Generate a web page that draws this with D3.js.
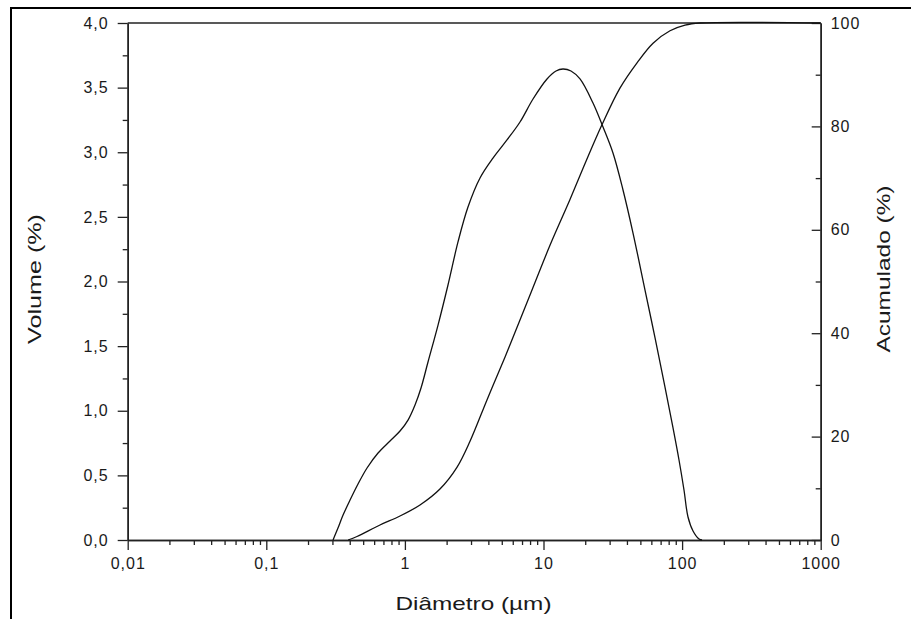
<!DOCTYPE html>
<html>
<head>
<meta charset="utf-8">
<script src="https://cdn.jsdelivr.net/npm/d3@7/dist/d3.min.js"></script>
<style>
    body { margin: 0; background: #fff; }
    svg { display: block; }
    .tick text { font-family: "Liberation Sans", Arial, sans-serif; font-size: 16px; letter-spacing: 1px; fill: #1a1a1a; }
    .title { font-family: "Liberation Sans", Arial, sans-serif; font-size: 19px; fill: #1a1a1a; }
</style>
</head>
<body>
<svg id="chart" width="911" height="619"></svg>
<script>

// volume curve (diameter in um, volume %)
var volDiam = [0.303, 0.329, 0.358, 0.402, 0.459, 0.533, 0.640, 0.781, 0.922, 1.053, 1.183, 1.307, 1.468,
    1.734, 2.046, 2.416, 2.852, 3.483, 4.320, 5.452, 6.768, 8.401, 10.60, 12.31, 13.82, 15.79, 18.34,
    22.76, 26.88, 31.72, 37.47, 44.24, 54.0, 63.8, 75.2, 86.0, 95.0, 103.2, 110.3, 119.9, 132.5, 139.2];
var volValue = [0, 0.093, 0.193, 0.309, 0.433, 0.557, 0.673, 0.766, 0.843, 0.928, 1.045, 1.176, 1.377,
    1.663, 1.973, 2.306, 2.576, 2.801, 2.955, 3.095, 3.234, 3.412, 3.567, 3.629, 3.644, 3.629, 3.567,
    3.381, 3.195, 2.994, 2.708, 2.375, 1.934, 1.563, 1.184, 0.867, 0.619, 0.387, 0.178, 0.070, 0.008, 0];

// cumulative curve (diameter in um, cumulative %)
var cumDiam = [0.389, 0.451, 0.661, 0.922, 1.285, 1.79, 2.38, 2.95, 3.91, 5.28, 7.73, 11.1, 15.5, 20.3,
    26.4, 35.6, 47.3, 61.7, 81.8, 105, 135, 1000];
var cumValue = [0, 0.68, 2.90, 4.64, 6.77, 9.86, 14.1, 19.1, 27.1, 35.4, 46.4, 56.9, 65.8, 73.3,
    80.3, 87.4, 92.3, 96.1, 98.5, 99.6, 100, 100];

var xMajor = [0.01, 0.1, 1, 10, 100, 1000];
var xLabels = ["0,01", "0,1", "1", "10", "100", "1000"];
var yLeftMajor = [0, 0.5, 1, 1.5, 2, 2.5, 3, 3.5, 4];
var yRightMajor = [0, 20, 40, 60, 80, 100];

function drawChart() {
    var svg = d3.select("#chart");
    var pLeft = 127.7, pRight = 820.7, pTop = 23, pBottom = 540;

    var x = d3.scaleLog().domain([0.01, 1000]).range([pLeft, pRight]);
    var yL = d3.scaleLinear().domain([0, 4]).range([pBottom, pTop]);
    var yR = d3.scaleLinear().domain([0, 100]).range([pBottom, pTop]);

    // outer frame
    svg.append("rect")
        .attr("x", 11).attr("y", 8)
        .attr("width", 960).attr("height", 700)
        .attr("fill", "none")
        .attr("stroke", "#000")
        .attr("stroke-width", 2);

    // minor ticks on x
    var xMinor = [];
    xMajor.slice(0, -1).forEach(function (d) {
        for (var k = 2; k < 10; k++) xMinor.push(d * k);
    });

    function styleAxis(g) {
        g.select(".domain").attr("stroke", "#222").attr("stroke-width", 1.5);
        g.selectAll(".tick line").attr("stroke", "#222").attr("stroke-width", 1.3);
    }

    svg.append("g")
        .attr("transform", "translate(0," + pBottom + ")")
        .call(d3.axisBottom(x).tickValues(xMinor).tickSize(5).tickSizeOuter(0).tickFormat(""))
        .call(styleAxis);

    svg.append("g")
        .attr("transform", "translate(0," + pBottom + ")")
        .call(d3.axisBottom(x).tickValues(xMajor).tickSize(10).tickSizeOuter(0).tickPadding(8)
            .tickFormat(function (d, i) { return xLabels[i]; }))
        .call(styleAxis);

    // left axis
    var yLMinor = d3.range(0.25, 4, 0.5);
    svg.append("g")
        .attr("transform", "translate(" + pLeft + ",0)")
        .call(d3.axisLeft(yL).tickValues(yLMinor).tickSize(5).tickSizeOuter(0).tickFormat(""))
        .call(styleAxis);

    svg.append("g")
        .attr("transform", "translate(" + pLeft + ",0)")
        .call(d3.axisLeft(yL).tickValues(yLeftMajor).tickSize(10).tickSizeOuter(0).tickPadding(9)
            .tickFormat(function (d) { return d3.format(".1f")(d).replace(".", ","); }))
        .call(styleAxis);

    // right axis, ticks point inward
    var yRMinor = d3.range(10, 100, 20);
    svg.append("g")
        .attr("transform", "translate(" + pRight + ",0)")
        .call(d3.axisRight(yR).tickValues(yRMinor).tickSize(-5).tickSizeOuter(0).tickFormat(""))
        .call(styleAxis);

    svg.append("g")
        .attr("transform", "translate(" + pRight + ",0)")
        .call(d3.axisRight(yR).tickValues(yRightMajor).tickSize(-9).tickSizeOuter(0).tickPadding(10)
            .tickFormat(d3.format("d")))
        .call(styleAxis);

    // top line of the box
    svg.append("line")
        .attr("x1", pLeft).attr("x2", pRight)
        .attr("y1", pTop).attr("y2", pTop)
        .attr("stroke", "#222")
        .attr("stroke-width", 1.5);

    // curves
    var volLine = d3.line()
        .x(function (d) { return x(d[0]); })
        .y(function (d) { return yL(d[1]); })
        .curve(d3.curveCatmullRom.alpha(0.5));

    var cumLine = d3.line()
        .x(function (d) { return x(d[0]); })
        .y(function (d) { return yR(d[1]); })
        .curve(d3.curveCatmullRom.alpha(0.5));

    svg.append("path")
        .datum(d3.zip(volDiam, volValue))
        .attr("d", volLine)
        .attr("fill", "none")
        .attr("stroke", "#111")
        .attr("stroke-width", 1.3);

    svg.append("path")
        .datum(d3.zip(cumDiam, cumValue))
        .attr("d", cumLine)
        .attr("fill", "none")
        .attr("stroke", "#111")
        .attr("stroke-width", 1.3);

    // axis titles
    svg.append("text")
        .attr("class", "title")
        .attr("x", 473.5).attr("y", 610)
        .attr("text-anchor", "middle")
        .attr("textLength", 156)
        .attr("lengthAdjust", "spacingAndGlyphs")
        .text("Diâmetro (µm)");

    svg.append("text")
        .attr("class", "title")
        .attr("transform", "translate(41,279) rotate(-90)")
        .attr("text-anchor", "middle")
        .attr("textLength", 130)
        .attr("lengthAdjust", "spacingAndGlyphs")
        .text("Volume (%)");

    svg.append("text")
        .attr("class", "title")
        .attr("transform", "translate(890,269) rotate(-90)")
        .attr("text-anchor", "middle")
        .attr("textLength", 167)
        .attr("lengthAdjust", "spacingAndGlyphs")
        .text("Acumulado (%)");
}

drawChart();

</script>
</body>
</html>
